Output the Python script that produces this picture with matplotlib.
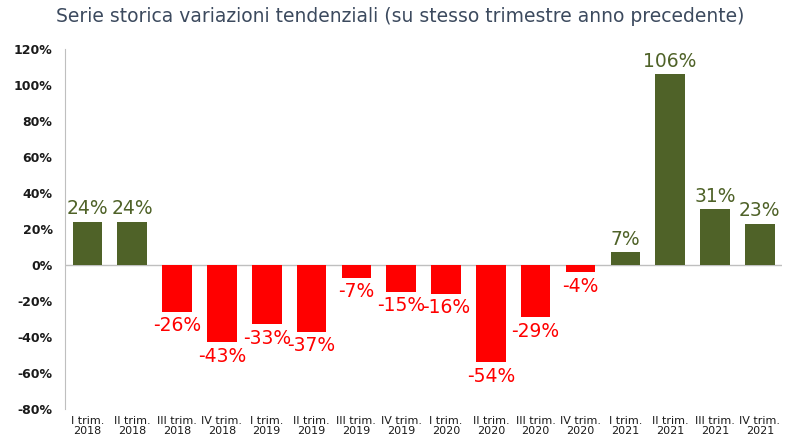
import matplotlib
matplotlib.use("Agg")
import matplotlib.pyplot as plt

categories = ["I trim.\n2018", "II trim.\n2018", "III trim.\n2018", "IV trim.\n2018",
              "I trim.\n2019", "II trim.\n2019", "III trim.\n2019", "IV trim.\n2019",
              "I trim.\n2020", "II trim.\n2020", "III trim.\n2020", "IV trim.\n2020",
              "I trim.\n2021", "II trim.\n2021", "III trim.\n2021", "IV trim.\n2021"]
values = [24, 24, -26, -43, -33, -37, -7, -15, -16, -54, -29, -4, 7, 106, 31, 23]
yticks = [-80, -60, -40, -20, 0, 20, 40, 60, 80, 100, 120]

GREEN = "#4F6228"
RED = "#FF0000"

plt.rcParams['font.family'] = ['DejaVu Sans']

fig = plt.figure(figsize=(8, 4.45), dpi=100)
ax = fig.add_axes([0.08125, 0.081, 0.8965, 0.809])

x = list(range(len(values)))
colors = [GREEN if v >= 0 else RED for v in values]
ax.bar(x, values, width=0.66, color=colors, zorder=2)

for xi, v, c in zip(x, values, colors):
    if v >= 0:
        ax.text(xi, v + 2.0, f"{v}%", ha='center', va='bottom', color=c, fontsize=13.5)
    else:
        ax.text(xi, v - 2.5, f"{v}%", ha='center', va='top', color=c, fontsize=13.5)

ax.set_xlim(-0.5, len(values) - 0.5)
ax.set_ylim(-80, 120)
ax.set_yticks(yticks)
ax.set_yticklabels([f"{t}%" for t in yticks], fontsize=9, fontweight='bold', color='#1A1A1A')
ax.set_xticks(x)
ax.set_xticklabels(categories, fontsize=8, color='#1A1A1A', linespacing=1.0)
ax.tick_params(axis='both', length=0)
ax.tick_params(axis='y', pad=9)
ax.tick_params(axis='x', pad=5)

for s in ['top', 'right', 'bottom']:
    ax.spines[s].set_visible(False)
ax.spines['left'].set_color('#BFBFBF')
ax.axhline(0, color='#BFBFBF', linewidth=1, zorder=1)

fig.text(0.5, 0.964, "Serie storica variazioni tendenziali (su stesso trimestre anno precedente)",
         ha='center', va='center', fontsize=13.5, color='#3C4A5E')

fig.savefig("out.png", dpi=100)
